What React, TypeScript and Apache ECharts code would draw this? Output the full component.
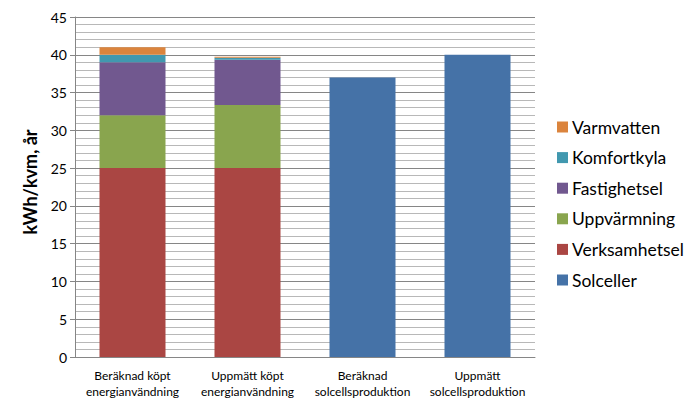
import React, { useEffect, useRef } from "react";
import * as echarts from "echarts";

const categories = [
  "Beräknad köpt\nenergianvändning",
  "Uppmätt köpt\nenergianvändning",
  "Beräknad\nsolcellsproduktion",
  "Uppmätt\nsolcellsproduktion",
];
const verksamhetsel = [25, 25, null, null];
const uppvarmning = [7, 8.35, null, null];
const fastighetsel = [7, 6.0, null, null];
const komfortkyla = [1, 0.25, null, null];
const varmvatten = [1, 0.15, null, null];
const solceller = [null, null, 37, 40];
const legendOrder = ["Varmvatten", "Komfortkyla", "Fastighetsel", "Uppvärmning", "Verksamhetsel", "Solceller"];

const FONT = "Lato, 'Open Sans', sans-serif";

export default function App() {
  const ref = useRef<HTMLDivElement>(null);
  useEffect(() => {
    const chart = echarts.init(ref.current!, null, { renderer: "svg" });
    const mk = (name: string, data: (number | null)[], color: string) => ({
      name,
      type: "bar",
      stack: "a",
      data,
      barWidth: 66,
      itemStyle: { color },
    });
    chart.setOption({
      animation: false,
      backgroundColor: "#fff",
      grid: { left: 75, right: 164, top: 17, bottom: 53, outerBoundsMode: "none", containLabel: false },
      legend: {
        orient: "vertical",
        left: 557,
        top: 118,
        padding: 0,
        itemWidth: 11,
        itemHeight: 11,
        itemGap: 12.6,
        icon: "rect",
        data: legendOrder,
        textStyle: { fontFamily: FONT, fontSize: 17.5, lineHeight: 18, color: "#000", padding: [0, 0, 0, -1] },
      },
      xAxis: {
        type: "category",
        data: categories,
        axisLine: { lineStyle: { color: "#868686" } },
        axisTick: { show: false },
        axisLabel: { fontFamily: FONT, fontSize: 12, color: "#000", lineHeight: 16, margin: 10, interval: 0 },
      },
      yAxis: {
        type: "value",
        min: 0,
        max: 45,
        interval: 5,
        name: "kWh/kvm, år",
        nameLocation: "middle",
        nameGap: 36,
        nameTextStyle: { fontFamily: FONT, fontSize: 18, fontWeight: "bold", color: "#000", padding: [0, 0, 0, 10] },
        axisLine: { show: true, lineStyle: { color: "#868686" } },
        axisTick: { show: true, length: 5, lineStyle: { color: "#868686" } },
        axisLabel: { fontFamily: FONT, fontSize: 14, color: "#000", margin: 8 },
        splitLine: { lineStyle: { color: "#868686", width: 1 } },
        minorTick: { show: false, splitNumber: 5 },
        minorSplitLine: { show: true, lineStyle: { color: "#b8b8b8", width: 1 } },
      },
      series: [
        mk("Verksamhetsel", verksamhetsel, "#AA4643"),
        mk("Uppvärmning", uppvarmning, "#89A54E"),
        mk("Fastighetsel", fastighetsel, "#71588F"),
        mk("Komfortkyla", komfortkyla, "#4198AF"),
        mk("Varmvatten", varmvatten, "#DB843D"),
        mk("Solceller", solceller, "#4572A7"),
      ],
    });
    return () => chart.dispose();
  }, []);
  return <div ref={ref} style={{ width: 699, height: 410, margin: -8 }} />;
}
